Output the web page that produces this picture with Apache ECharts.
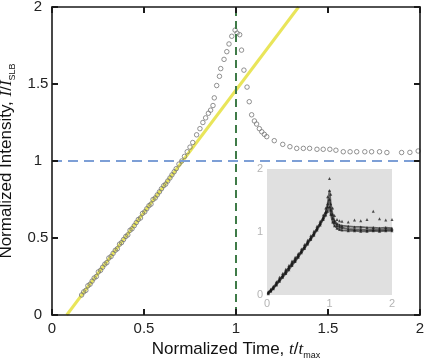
<!DOCTYPE html>
<html>
<head>
<meta charset="utf-8">
<script src="https://cdn.jsdelivr.net/npm/echarts@6/dist/echarts.min.js"></script>
<style>
  html, body { margin: 0; padding: 0; background: #fff; }
  #chart { width: 424px; height: 361px; }
</style>
</head>
<body>
<div id="chart"></div>
<script>
var axisTicks = [0, 0.5, 1, 1.5, 2]

// measured intensity vs normalized time
var timeData = [0.161, 0.172, 0.184, 0.195, 0.207, 0.218, 0.229, 0.241, 0.252, 0.264, 0.275, 0.287, 0.298, 0.309, 0.321, 0.332, 0.344, 0.355, 0.367, 0.378, 0.389, 0.401, 0.412, 0.424, 0.435, 0.447, 0.458, 0.469, 0.481, 0.492, 0.504, 0.515, 0.527, 0.538, 0.549, 0.561, 0.572, 0.584, 0.595, 0.607, 0.618, 0.629, 0.641, 0.652, 0.664, 0.675,
  0.69, 0.705, 0.72, 0.735, 0.75, 0.765, 0.786, 0.804, 0.82, 0.835, 0.85, 0.862, 0.875, 0.882, 0.895, 0.91, 0.917, 0.935, 0.95, 0.962, 0.977, 0.995, 1.006, 1.02,
  1.03, 1.043, 1.06, 1.072, 1.085, 1.10, 1.112, 1.127, 1.14, 1.154, 1.167, 1.208, 1.254, 1.293, 1.33, 1.366, 1.40, 1.44, 1.474, 1.51, 1.543, 1.583, 1.62, 1.656, 1.70, 1.737, 1.78, 1.82, 1.90, 1.945, 1.99]
var intensityData = [0.13, 0.15, 0.16, 0.19, 0.20, 0.22, 0.24, 0.25, 0.28, 0.29, 0.31, 0.33, 0.34, 0.37, 0.38, 0.40, 0.42, 0.43, 0.46, 0.47, 0.49, 0.51, 0.52, 0.55, 0.56, 0.58, 0.60, 0.62, 0.63, 0.66, 0.67, 0.69, 0.71, 0.72, 0.75, 0.76, 0.78, 0.80, 0.82, 0.84, 0.85, 0.87, 0.89, 0.91, 0.93, 0.95,
  0.98, 1.00, 1.03, 1.06, 1.09, 1.12, 1.17, 1.21, 1.25, 1.28, 1.31, 1.33, 1.36, 1.41, 1.49, 1.55, 1.60, 1.66, 1.71, 1.76, 1.81, 1.85, 1.83, 1.82,
  1.72, 1.59, 1.48, 1.385, 1.30, 1.26, 1.24, 1.21, 1.19, 1.173, 1.158, 1.132, 1.108, 1.093, 1.082, 1.082, 1.082, 1.076, 1.076, 1.076, 1.07, 1.06, 1.06, 1.06, 1.06, 1.06, 1.06, 1.055, 1.055, 1.056, 1.065]

// linear fit of the early rise
var fitX = [0.08, 1.34]
var fitY = [0, 2]

// inset: several runs
var insetT = [0.02, 0.06, 0.1, 0.15, 0.2, 0.25, 0.3, 0.35, 0.4, 0.45, 0.5, 0.55, 0.6, 0.65, 0.7, 0.75, 0.8, 0.85, 0.9, 0.94, 0.97, 1.0, 1.02, 1.05, 1.08, 1.12, 1.16, 1.2, 1.3, 1.4, 1.5, 1.6, 1.7, 1.8, 1.9, 2.0]
var runA = [0.03, 0.06, 0.10, 0.16, 0.22, 0.28, 0.34, 0.40, 0.47, 0.53, 0.60, 0.67, 0.74, 0.81, 0.88, 0.95, 1.03, 1.11, 1.20, 1.27, 1.33, 1.40, 1.28, 1.16, 1.10, 1.06, 1.04, 1.03, 1.02, 1.02, 1.01, 1.01, 1.02, 1.01, 1.02, 1.02]
var runB = [0.04, 0.08, 0.12, 0.19, 0.25, 0.31, 0.38, 0.44, 0.51, 0.57, 0.63, 0.70, 0.77, 0.84, 0.91, 0.98, 1.06, 1.14, 1.23, 1.32, 1.40, 1.52, 1.35, 1.22, 1.15, 1.10, 1.08, 1.07, 1.05, 1.04, 1.04, 1.03, 1.04, 1.03, 1.04, 1.04]
var runC = [0.02, 0.07, 0.11, 0.17, 0.24, 0.30, 0.36, 0.43, 0.49, 0.55, 0.62, 0.69, 0.76, 0.83, 0.90, 0.97, 1.05, 1.13, 1.22, 1.31, 1.45, 1.66, 1.45, 1.28, 1.18, 1.13, 1.11, 1.10, 1.09, 1.08, 1.08, 1.07, 1.07, 1.06, 1.07, 1.06]
var runD = [0.05, 0.09, 0.14, 0.21, 0.28, 0.34, 0.41, 0.47, 0.54, 0.60, 0.66, 0.73, 0.80, 0.87, 0.94, 1.01, 1.09, 1.17, 1.27, 1.38, 1.56, 1.85, 1.60, 1.38, 1.26, 1.20, 1.18, 1.17, 1.16, 1.19, 1.18, 1.20, 1.33, 1.21, 1.19, 1.20]

function pairs(xs, ys) {
  return xs.map(function(x, i) { return [x, ys[i]] })
}

var font = 'Liberation Sans, Arial, sans-serif'
var serif = 'Liberation Serif, Times New Roman, serif'

function frameAxis(pos, gridIndex, showLabel) {
  return {
    type: 'value',
    gridIndex: gridIndex,
    position: pos,
    min: axisTicks[0],
    max: axisTicks[axisTicks.length - 1],
    interval: 0.5,
    axisLine: { show: true, onZero: false, lineStyle: { color: '#1a1a1a', width: 1.6 } },
    axisTick: { show: true, inside: true, length: 6, interval: 0, lineStyle: { color: '#1a1a1a', width: 2, opacity: 1 } },
    axisLabel: {
      show: showLabel,
      color: '#222',
      fontSize: 15,
      fontFamily: font,
      formatter: function(v) { return String(v) }
    },
    splitLine: { show: false },
    z: 10
  }
}

var xBottom = frameAxis('bottom', 0, true)
xBottom.axisLabel.margin = 6
xBottom.name = '{n|Normalized Time, }{i|t}{n|/}{i|t}{s|max}'
xBottom.nameLocation = 'middle'
xBottom.nameGap = 23
xBottom.nameTextStyle = {
  rich: {
    n: { fontSize: 17, fontFamily: font, color: '#111' },
    i: { fontSize: 17, fontFamily: serif, fontStyle: 'italic', color: '#111' },
    s: { fontSize: 9, fontFamily: font, color: '#111', verticalAlign: 'bottom', padding: [12, 0, 0, 0] }
  }
}

var yLeft = frameAxis('left', 0, true)
yLeft.axisLabel.align = 'center'
yLeft.axisLabel.margin = 14
yLeft.name = '{n|Normalized Intensity, }{i|I}{n|/}{i|I}{s|SLB}'
yLeft.nameLocation = 'middle'
yLeft.nameGap = 29
yLeft.nameTextStyle = {
  rich: {
    n: { fontSize: 17, fontFamily: font, color: '#111' },
    i: { fontSize: 17, fontFamily: serif, fontStyle: 'italic', color: '#111' },
    s: { fontSize: 9, fontFamily: font, color: '#111', verticalAlign: 'bottom', padding: [12, 0, 0, 0] }
  }
}

function insetAxis(gridIndex) {
  return {
    type: 'value',
    gridIndex: gridIndex,
    min: 0,
    max: 2,
    interval: 1,
    axisLine: { show: false },
    axisTick: { show: false },
    axisLabel: { color: '#b4b4b4', fontSize: 11, fontFamily: font, margin: 4 },
    splitLine: { show: true, lineStyle: { color: '#fff', width: 2 } }
  }
}

var insetX = insetAxis(1)
insetX.axisLabel.margin = 3
var insetY = insetAxis(1)

function insetRun(ys, asLine) {
  return {
    type: asLine ? 'line' : 'scatter',
    xAxisIndex: 2,
    yAxisIndex: 2,
    data: pairs(insetT, ys),
    symbol: 'triangle',
    symbolSize: 3,
    showSymbol: true,
    itemStyle: { color: '#1a1a1a', opacity: 0.75 },
    lineStyle: { color: '#222', width: 1.8, opacity: 0.65 },
    z: 6
  }
}

var chart = echarts.init(document.getElementById('chart'))
chart.setOption({
  animation: false,
  backgroundColor: '#fff',
  grid: [
    { left: 52, top: 7, right: 4, bottom: 46, outerBoundsMode: 'none' },
    { left: 267, top: 169, width: 125, height: 126, show: true, backgroundColor: '#e0e0e0', borderWidth: 0, z: 5, outerBoundsMode: 'none' }
  ],
  xAxis: [xBottom, frameAxis('top', 0, false), insetX],
  yAxis: [yLeft, frameAxis('right', 0, false), insetY],
  series: [
    {
      type: 'line',
      data: pairs(fitX, fitY),
      symbol: 'none',
      clip: true,
      lineStyle: { color: '#e9e55a', width: 3 },
      z: 2
    },
    {
      type: 'scatter',
      data: pairs(timeData, intensityData),
      symbol: 'circle',
      symbolSize: 4.5,
      itemStyle: { color: 'rgba(0,0,0,0)', borderColor: '#777', borderWidth: 1 },
      z: 3
    },
    {
      type: 'line',
      data: [[1, 0], [1, 2]],
      symbol: 'none',
      lineStyle: { color: '#3f7b48', width: 2, type: [8, 5] },
      z: 4
    },
    {
      type: 'line',
      data: [[0, 1], [2, 1]],
      symbol: 'none',
      lineStyle: { color: '#7d9fd6', width: 2, type: [10, 6] },
      z: 4
    },
    insetRun(runA, true),
    insetRun(runB, true),
    insetRun(runC, true),
    insetRun(runD, false)
  ]
})
</script>
</body>
</html>
